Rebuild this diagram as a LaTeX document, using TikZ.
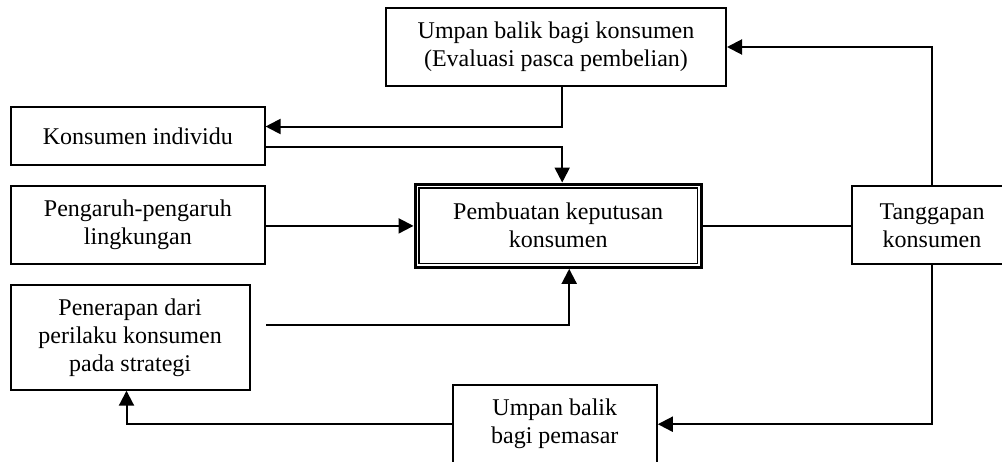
\documentclass[tikz,border=0pt]{standalone}
\usepackage{fontspec}
\setmainfont{Liberation Serif}
\usetikzlibrary{arrows.meta,calc}
\begin{document}
\begin{tikzpicture}[x=1pt,y=-1pt,
  box/.style={draw, line width=2pt, rectangle, align=center, inner sep=0pt,
    font=\fontsize{24}{28}\selectfont},
  conn/.style={line width=2pt},
  arr/.style={conn, -{Triangle[length=15pt,width=15pt]}}]
\useasboundingbox (0,0) rectangle (1002,461);
\begin{scope}
\clip (0,0) rectangle (1002,461);
% nodes
\node[box, minimum width=340pt, minimum height=78.4pt] (top) at (556,47)
  {Umpan balik bagi konsumen\\(Evaluasi pasca pembelian)};
\node[box, minimum width=253.3pt, minimum height=57.3pt] (ind) at (137.9,135.9)
  {Konsumen individu};
\node[box, minimum width=253.3pt, minimum height=77.3pt] (env) at (137.9,224.9)
  {Pengaruh-pengaruh\\lingkungan};
\node[box, minimum width=238.8pt, minimum height=104.4pt] (pen) at (130.1,337.5)
  {Penerapan dari\\perilaku konsumen\\pada strategi};
\node[box, line width=3pt, minimum width=286.3pt, minimum height=83.3pt] (dec) at (558.2,225.7)
  {Pembuatan keputusan\\konsumen};
\draw[line width=1.6pt] ([shift={(5.2pt,-5.2pt)}]dec.north west) rectangle ([shift={(-5.2pt,5.2pt)}]dec.south east);
\node[box, minimum width=159.6pt, minimum height=78.3pt] (tan) at (932,225.3)
  {Tanggapan\\konsumen};
\node[box, minimum width=204pt, minimum height=78pt] (mkt) at (554.8,424.2)
  {Umpan balik\\bagi pemasar};
% connectors
\draw[arr] (tan.north) |- (top.east);
\draw[arr] ([xshift=5.8pt]top.south) |- ([yshift=9.4pt]ind.east);
\draw[arr] ([yshift=-10.6pt]ind.east) -| ([xshift=4pt]dec.north);
\draw[arr] ([yshift=-1pt]env.east) -- ([yshift=-1pt]env.east -| dec.west);
\draw[conn] ([yshift=-0.5pt]dec.east) -- ([yshift=-0.5pt]dec.east -| tan.west);
\draw[arr] ([shift={(15.5pt,12.5pt)}]pen.east) -| ([xshift=11pt]dec.south);
\draw[arr] (tan.south) |- (mkt.east);
\draw[arr] (mkt.west) -| ([xshift=-3.6pt]pen.south);
\end{scope}
\end{tikzpicture}
\end{document}
